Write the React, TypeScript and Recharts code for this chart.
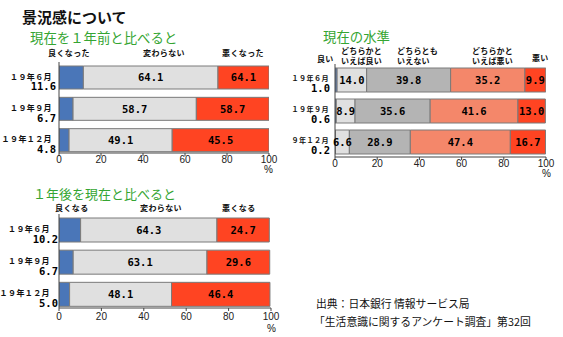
import React from 'react';
import { BarChart, Bar, XAxis, YAxis, LabelList } from 'recharts';

// ---------- data ----------
const periods = ['１９年６月', '１９年９月', '１９年１２月'];
const xTicks = [0, 20, 40, 60, 80, 100];

// 現在を１年前と比べると
const c1Good = [11.6, 6.7, 4.8];
const c1Same = [64.1, 58.7, 49.1];
const c1Bad = [24.3, 34.6, 46.1];
const c1SameLabels = ['64.1', '58.7', '49.1'];
const c1BadLabels = ['64.1', '58.7', '45.5'];
const c1Headers = ['良くなった', '変わらない', '悪くなった'];

// 現在の水準
const c2Good = [1.0, 0.6, 0.2];
const c2RatherGood = [14.0, 8.9, 6.6];
const c2Neutral = [39.8, 35.6, 28.9];
const c2RatherBad = [35.2, 41.6, 47.4];
const c2Bad = [9.9, 13.0, 16.7];

// １年後を現在と比べると
const c3Good = [10.2, 6.7, 5.0];
const c3Same = [64.3, 63.1, 48.1];
const c3Bad = [24.7, 29.6, 46.4];
const c3Headers = ['良くなる', '変わらない', '悪くなる'];

// ---------- styles ----------
const JP = "'Noto Sans CJK JP', 'Noto Sans', sans-serif";
const MONO = "'DejaVu Sans Mono', 'Liberation Mono', monospace";
const SANS = "'Liberation Sans', Arial, sans-serif";
const BLUE = '#4a76b8';
const LGRAY = '#e0e0e0';
const MGRAY = '#b4b4b4';
const SALMON = '#f4876a';
const RED = '#ff4422';
const BORDER = '#7a7a7a';
const GREEN = '#35a532';

const fmt = (v: number) => v.toFixed(1);

const renderLabel = (props: any) => {
  const { x, y, width, height, value } = props;
  if (value === undefined || value === null || value === '') return null;
  return (
    <text
      x={Number(x) + Number(width) / 2}
      y={Number(y) + Number(height) / 2}
      dy="0.36em"
      textAnchor="middle"
      fontFamily={MONO}
      fontWeight={700}
      fontSize={10.5}
      fill="#000"
    >
      {value}
    </text>
  );
};

type Series = { key: string; color: string; labelKey?: string };

function makeYTick(goodVals: number[], dateOff: number, valOff: number, dateSize: number) {
  return (props: any) => {
    const { x, y, index } = props;
    return (
      <g>
        <text
          x={Number(x) + dateOff}
          y={Number(y) - 1}
          dy="0.36em"
          textAnchor="end"
          fontFamily={JP}
          fontWeight={700}
          fontSize={dateSize}
          letterSpacing={0.4}
          fill="#111"
        >
          {periods[index]}
        </text>
        <text
          x={Number(x) + valOff}
          y={Number(y) + 9}
          dy="0.36em"
          textAnchor="end"
          fontFamily={MONO}
          fontWeight={700}
          fontSize={10.5}
          fill="#000"
        >
          {fmt(goodVals[index])}
        </text>
      </g>
    );
  };
}

function StackChart(props: {
  left: number;
  top: number;
  width: number;
  height: number;
  margin: { top: number; right: number; bottom: number; left: number };
  yWidth: number;
  xHeight: number;
  padBottom: number;
  barSize: number;
  tickMargin: number;
  data: any[];
  series: Series[];
  goodVals: number[];
  dateOff: number;
  valOff: number;
  dateSize: number;
}) {
  const p = props;
  return (
    <div style={{ position: 'absolute', left: p.left, top: p.top }}>
      <BarChart
        width={p.width}
        height={p.height}
        data={p.data}
        layout="vertical"
        margin={p.margin}
        barSize={p.barSize}
      >
        <XAxis
          type="number"
          domain={[0, 100]}
          ticks={xTicks}
          allowDataOverflow
          height={p.xHeight}
          tickSize={3}
          tickMargin={p.tickMargin}
          stroke="#444"
          tick={{ fontSize: 10, fill: '#222', fontFamily: SANS }}
        />
        <YAxis
          type="category"
          dataKey="name"
          width={p.yWidth}
          tickLine={false}
          tickSize={0}
          tickMargin={0}
          stroke="#444"
          padding={{ top: 0, bottom: p.padBottom }}
          tick={makeYTick(p.goodVals, p.dateOff, p.valOff, p.dateSize)}
          interval={0}
        />
        {p.series.map((s) => (
          <Bar
            key={s.key}
            dataKey={s.key}
            stackId="a"
            fill={s.color}
            stroke={BORDER}
            strokeWidth={1}
            isAnimationActive={false}
          >
            {s.labelKey ? <LabelList dataKey={s.labelKey} content={renderLabel} /> : null}
          </Bar>
        ))}
      </BarChart>
    </div>
  );
}

function Txt(props: { x: number; y: number; size: number; children: any; color?: string; bold?: boolean; ls?: number; font?: string }) {
  const { x, y, size } = props;
  return (
    <div
      style={{
        position: 'absolute',
        left: x,
        top: y - size / 2,
        fontSize: size,
        lineHeight: `${size}px`,
        fontFamily: props.font || JP,
        fontWeight: props.bold ? 700 : 400,
        color: props.color || '#111',
        letterSpacing: props.ls || 0,
        whiteSpace: 'nowrap',
      }}
    >
      {props.children}
    </div>
  );
}

export default function App() {
  const data1 = periods.map((name, i) => ({
    name,
    good: c1Good[i],
    same: c1Same[i],
    bad: c1Bad[i],
    sameL: c1SameLabels[i],
    badL: c1BadLabels[i],
  }));
  const data2 = periods.map((name, i) => ({
    name,
    g: c2Good[i],
    rg: c2RatherGood[i],
    n: c2Neutral[i],
    rb: c2RatherBad[i],
    b: c2Bad[i],
    rgL: fmt(c2RatherGood[i]),
    nL: fmt(c2Neutral[i]),
    rbL: fmt(c2RatherBad[i]),
    bL: fmt(c2Bad[i]),
  }));
  const data3 = periods.map((name, i) => ({
    name,
    good: c3Good[i],
    same: c3Same[i],
    bad: c3Bad[i],
    sameL: fmt(c3Same[i]),
    badL: fmt(c3Bad[i]),
  }));

  return (
    <div style={{ position: 'absolute', left: 0, top: 0, width: 563, height: 337, background: '#fff', overflow: 'hidden' }}>
      {/* titles */}
      <Txt x={22} y={16} size={15} bold>景況感について</Txt>
      <Txt x={30} y={38} size={13.4} color={GREEN}>現在を１年前と比べると</Txt>
      <Txt x={323} y={37} size={13.4} color={GREEN}>現在の水準</Txt>
      <Txt x={33} y={193} size={13} color={GREEN}>１年後を現在と比べると</Txt>

      {/* chart 1 */}
      <StackChart
        left={0}
        top={0}
        width={290}
        height={180}
        margin={{ top: 62, right: 21, bottom: 7, left: 0 }}
        yWidth={59}
        xHeight={20}
        padBottom={-3}
        barSize={23}
        tickMargin={0}
        data={data1}
        series={[
          { key: 'good', color: BLUE },
          { key: 'same', color: LGRAY, labelKey: 'sameL' },
          { key: 'bad', color: RED, labelKey: 'badL' },
        ]}
        goodVals={c1Good}
        dateOff={-7}
        valOff={-3}
        dateSize={8}
      />
      <Txt x={48} y={53} size={8} bold ls={0.4}>{c1Headers[0]}</Txt>
      <Txt x={143} y={53} size={8} bold ls={0.4}>{c1Headers[1]}</Txt>
      <Txt x={222} y={53} size={8} bold ls={0.4}>{c1Headers[2]}</Txt>
      <Txt x={264} y={170} size={10} font={SANS}>%</Txt>

      {/* chart 2 */}
      <StackChart
        left={290}
        top={0}
        width={273}
        height={180}
        margin={{ top: 64, right: 17, bottom: 3, left: 0 }}
        yWidth={45}
        xHeight={20}
        padBottom={0}
        barSize={24}
        tickMargin={0}
        data={data2}
        series={[
          { key: 'g', color: BLUE },
          { key: 'rg', color: LGRAY, labelKey: 'rgL' },
          { key: 'n', color: MGRAY, labelKey: 'nL' },
          { key: 'rb', color: SALMON, labelKey: 'rbL' },
          { key: 'b', color: RED, labelKey: 'bL' },
        ]}
        goodVals={c2Good}
        dateOff={-6}
        valOff={-5}
        dateSize={7.1}
      />
      <Txt x={317} y={59} size={8} bold ls={0.2}>良い</Txt>
      <Txt x={341} y={51} size={8} bold ls={0.2}>どちらかと</Txt>
      <Txt x={341} y={61} size={8} bold ls={0.2}>いえば良い</Txt>
      <Txt x={397} y={51} size={8} bold ls={0.2}>どちらとも</Txt>
      <Txt x={397} y={61} size={8} bold ls={0.2}>いえない</Txt>
      <Txt x={472} y={51} size={8} bold ls={0.2}>どちらかと</Txt>
      <Txt x={472} y={61} size={8} bold ls={0.2}>いえば悪い</Txt>
      <Txt x={532} y={58} size={8} bold ls={0.2}>悪い</Txt>
      <Txt x={542} y={174} size={10} font={SANS}>%</Txt>

      {/* chart 3 */}
      <StackChart
        left={0}
        top={180}
        width={290}
        height={157}
        margin={{ top: 34, right: 19, bottom: 9, left: 0 }}
        yWidth={59}
        xHeight={20}
        padBottom={-2.5}
        barSize={24}
        tickMargin={2}
        data={data3}
        series={[
          { key: 'good', color: BLUE },
          { key: 'same', color: LGRAY, labelKey: 'sameL' },
          { key: 'bad', color: RED, labelKey: 'badL' },
        ]}
        goodVals={c3Good}
        dateOff={-9}
        valOff={-1}
        dateSize={8}
      />
      <Txt x={55} y={208} size={8} bold ls={0.4}>{c3Headers[0]}</Txt>
      <Txt x={140} y={208} size={8} bold ls={0.4}>{c3Headers[1]}</Txt>
      <Txt x={222} y={208} size={8} bold ls={0.4}>{c3Headers[2]}</Txt>
      <Txt x={267} y={329} size={10} font={SANS}>%</Txt>

      {/* source */}
      <Txt x={316} y={303} size={10.8}>出典：日本銀行 情報サービス局</Txt>
      <Txt x={314} y={321} size={10.8}>「生活意識に関するアンケート調査」第32回</Txt>
    </div>
  );
}
